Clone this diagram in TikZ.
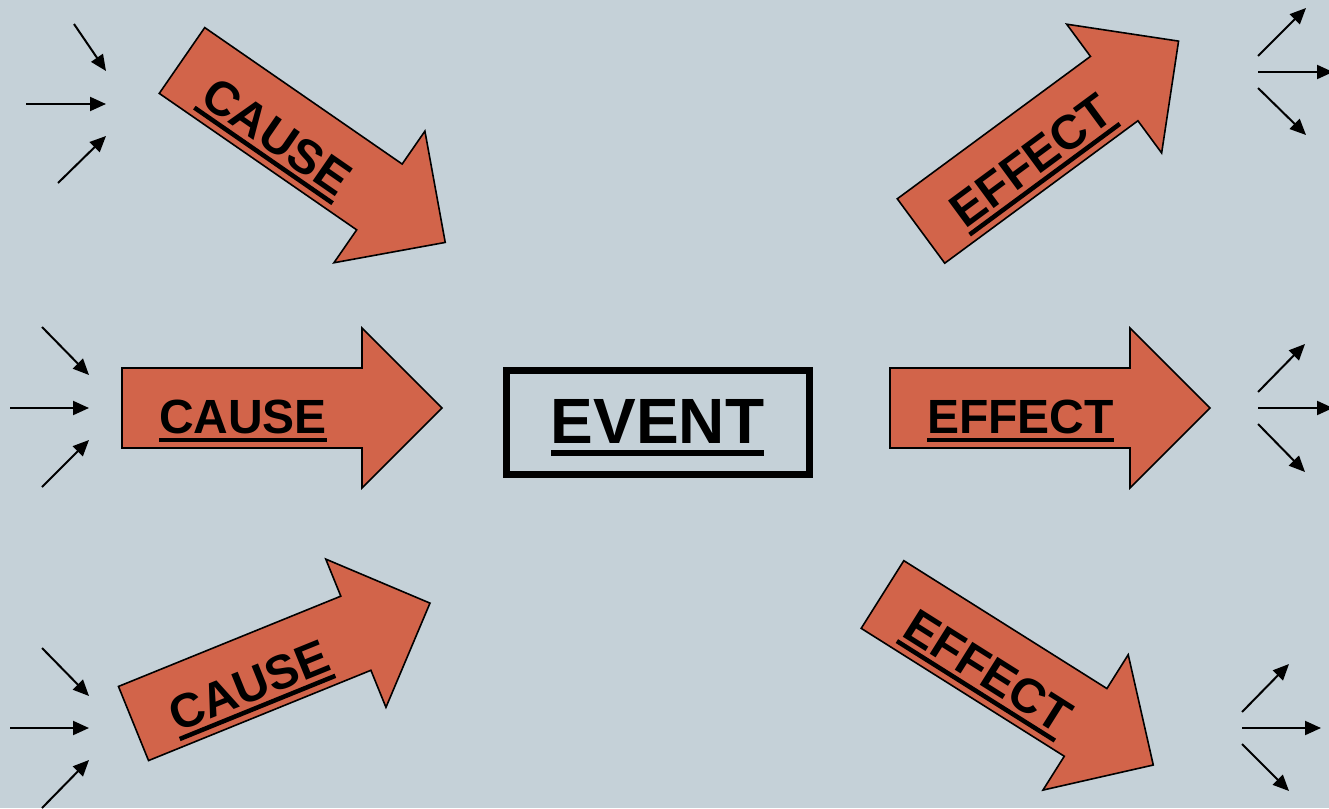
\documentclass[tikz,border=0pt]{standalone}
\usepackage{fontspec}
\setmainfont{Liberation Sans}
\usetikzlibrary{arrows.meta}
\definecolor{bgcol}{RGB}{197,209,216}
\definecolor{arrowfill}{RGB}{210,100,74}
\newcommand\ultext[3]{\setbox0\hbox{#1}\rlap{\rule[#2]{\wd0}{#3}}\box0}
\tikzset{
  arrowshape/.style={draw=black, line width=1.6pt, fill=arrowfill, line join=miter},
  arrowtext/.style={font=\fontsize{48}{58}\selectfont\bfseries, inner sep=0pt, outer sep=0pt, transform shape},
  smallarrow/.style={line width=2pt, -{Triangle[length=16pt,width=14pt]}},
  eventbox/.style={draw=black, line width=7pt, minimum width=303pt, minimum height=104pt, inner sep=0pt},
  eventtext/.style={font=\fontsize{64}{76}\selectfont\bfseries, inner sep=0pt, outer sep=0pt}
}
\newcommand\bigarrow[5]{%
  \begin{scope}[shift={(#2,#3)}, rotate=#4]
    \draw[arrowshape] (0,-40) -- (240,-40) -- (240,-80) -- (320,0) -- (240,80) -- (240,40) -- (0,40) -- cycle;
    \node[arrowtext, anchor=base west] (#1) at (37,25) {\ultext{#5}{-9pt}{4.5pt}};
  \end{scope}}
\begin{document}
\begin{tikzpicture}[x=1pt,y=-1pt]
  \fill[bgcol] (0,0) rectangle (1329,808);
  \useasboundingbox (0,0) rectangle (1329,808);

  % big arrows
  \bigarrow{causeA}{182}{60.5}{-34.65}{CAUSE}
  \bigarrow{causeB}{122}{408}{0}{CAUSE}
  \bigarrow{causeC}{133.5}{723.5}{22.1}{CAUSE}
  \bigarrow{effectA}{921}{231}{36.4}{EFFECT}
  \bigarrow{effectB}{890}{408}{0}{EFFECT}
  \bigarrow{effectC}{882.5}{594.5}{-32.2}{EFFECT}

  % event
  \node[eventbox] (event) at (657.5,422.5) {};
  \node[eventtext, anchor=base] (eventlabel) at (657.5,443) {\ultext{EVENT}{-13pt}{6pt}};

  % small arrows, top-left
  \coordinate (tl1s) at (74,24);   \coordinate (tl1e) at (106,71);
  \coordinate (tl2s) at (26,104);  \coordinate (tl2e) at (106,104);
  \coordinate (tl3s) at (58,183);  \coordinate (tl3e) at (106,136);
  % middle-left
  \coordinate (ml1s) at (42,327);  \coordinate (ml1e) at (89,375);
  \coordinate (ml2s) at (10,408);  \coordinate (ml2e) at (89,408);
  \coordinate (ml3s) at (42,487);  \coordinate (ml3e) at (89,440);
  % bottom-left
  \coordinate (bl1s) at (42,648);  \coordinate (bl1e) at (89,696);
  \coordinate (bl2s) at (10,728);  \coordinate (bl2e) at (89,728);
  \coordinate (bl3s) at (42,808);  \coordinate (bl3e) at (89,760);
  % top-right
  \coordinate (tr1s) at (1258,56); \coordinate (tr1e) at (1306,8);
  \coordinate (tr2s) at (1258,72); \coordinate (tr2e) at (1333,72);
  \coordinate (tr3s) at (1258,88); \coordinate (tr3e) at (1306,135);
  % middle-right
  \coordinate (mr1s) at (1258,392); \coordinate (mr1e) at (1305,344);
  \coordinate (mr2s) at (1258,408); \coordinate (mr2e) at (1333,408);
  \coordinate (mr3s) at (1258,424); \coordinate (mr3e) at (1305,472);
  % bottom-right
  \coordinate (br1s) at (1242,712); \coordinate (br1e) at (1289,664);
  \coordinate (br2s) at (1242,728); \coordinate (br2e) at (1321,728);
  \coordinate (br3s) at (1242,744); \coordinate (br3e) at (1289,791);

  \foreach \g in {tl,ml,bl,tr,mr,br}{
    \foreach \i in {1,2,3}{
      \draw[smallarrow] (\g\i s) -- (\g\i e);
    }
  }
\end{tikzpicture}
\end{document}
